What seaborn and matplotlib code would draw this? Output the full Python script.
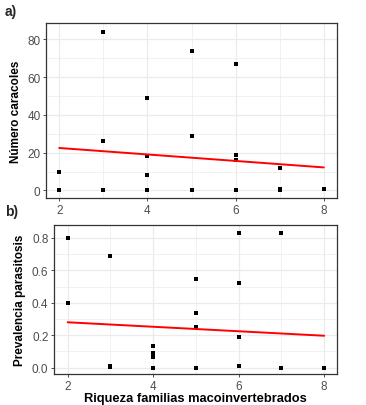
import numpy as np
import pandas as pd
import seaborn as sns
import matplotlib
matplotlib.use("Agg")
import matplotlib.pyplot as plt
from matplotlib.ticker import MultipleLocator, FormatStrFormatter

# panel a) richness vs number of snails
riq_a = [2, 2, 3, 3, 3, 4, 4, 4, 4, 5, 5, 5, 6, 6, 6, 6, 7, 7, 7, 8]
caracoles = [0, 10, 84, 26, 0, 49, 18, 8, 0, 74, 29, 0, 67, 19, 16, 0, 12, 1, 0, 1]
fit_a_x = [2, 8]
fit_a_y = [22.5, 12.2]

# panel b) richness vs parasitosis prevalence
riq_b = [2, 2, 3, 3, 3, 4, 4, 4, 4, 5, 5, 5, 5, 6, 6, 6, 6, 7, 7, 8]
prevalencia = [0.80, 0.40, 0.69, 0.01, 0.005, 0.135, 0.09, 0.065, 0.0,
               0.55, 0.335, 0.25, 0.0, 0.83, 0.525, 0.19, 0.01, 0.83, 0.0, 0.0]
fit_b_x = [2, 8]
fit_b_y = [0.28, 0.197]

sns.set_theme(style="whitegrid")
plt.rcParams["font.family"] = ["Liberation Sans", "DejaVu Sans"]

fig = plt.figure(figsize=(3.66, 4.06), dpi=100)
ax1 = fig.add_axes([46 / 366, (406 - 199) / 406, 291 / 366, 175 / 406])
ax2 = fig.add_axes([54 / 366, (406 - 375) / 406, 283 / 366, 149 / 406])

df_a = pd.DataFrame({"riq": riq_a, "y": caracoles})
df_b = pd.DataFrame({"riq": riq_b, "y": prevalencia})

for ax, df, fx, fy in [(ax1, df_a, fit_a_x, fit_a_y), (ax2, df_b, fit_b_x, fit_b_y)]:
    sns.scatterplot(data=df, x="riq", y="y", ax=ax, color="black", marker="s",
                    s=7, linewidth=0, zorder=3)
    sns.lineplot(x=fx, y=fy, ax=ax, color="#ff0000", linewidth=1.4, zorder=4)
    ax.set_facecolor("white")
    ax.xaxis.set_major_locator(MultipleLocator(2))
    ax.xaxis.set_minor_locator(MultipleLocator(1))
    ax.grid(True, which="major", color="#ebebeb", linewidth=0.9)
    ax.grid(True, which="minor", color="#ebebeb", linewidth=0.5)
    for sp in ax.spines.values():
        sp.set_color("#333333")
        sp.set_linewidth(0.9)
    ax.tick_params(axis="both", which="major", length=2.5, width=0.6, color="#333333",
                   labelsize=8.5, labelcolor="#4d4d4d", pad=1.5, bottom=True, left=True)
    ax.tick_params(which="minor", length=0)

ax1.set_xlim(1.7, 8.3)
ax1.set_ylim(-4, 88.7)
ax1.yaxis.set_major_locator(MultipleLocator(20))
ax1.yaxis.set_minor_locator(MultipleLocator(10))
ax1.set_xlabel("")
ax1.set_ylabel("Número caracoles", fontsize=8.5, fontweight="bold", color="black",
               labelpad=4)

ax2.set_xlim(1.68, 8.3)
ax2.set_ylim(-0.039, 0.88)
ax2.yaxis.set_major_locator(MultipleLocator(0.2))
ax2.yaxis.set_minor_locator(MultipleLocator(0.1))
ax2.yaxis.set_major_formatter(FormatStrFormatter("%.1f"))
ax2.set_xlabel("Riqueza familias macoinvertebrados", fontsize=9.3, fontweight="bold",
               color="black", labelpad=0)
ax2.set_ylabel("Prevalencia parasitosis", fontsize=8.5, fontweight="bold", color="black",
               labelpad=4)

fig.text(5 / 366, 1 - 12 / 406, "a)", fontsize=10, fontweight="bold", va="center")
fig.text(5 / 366, 1 - 212 / 406, "b)", fontsize=10, fontweight="bold", va="center")

fig.savefig("out.png", dpi=100, facecolor="white")
